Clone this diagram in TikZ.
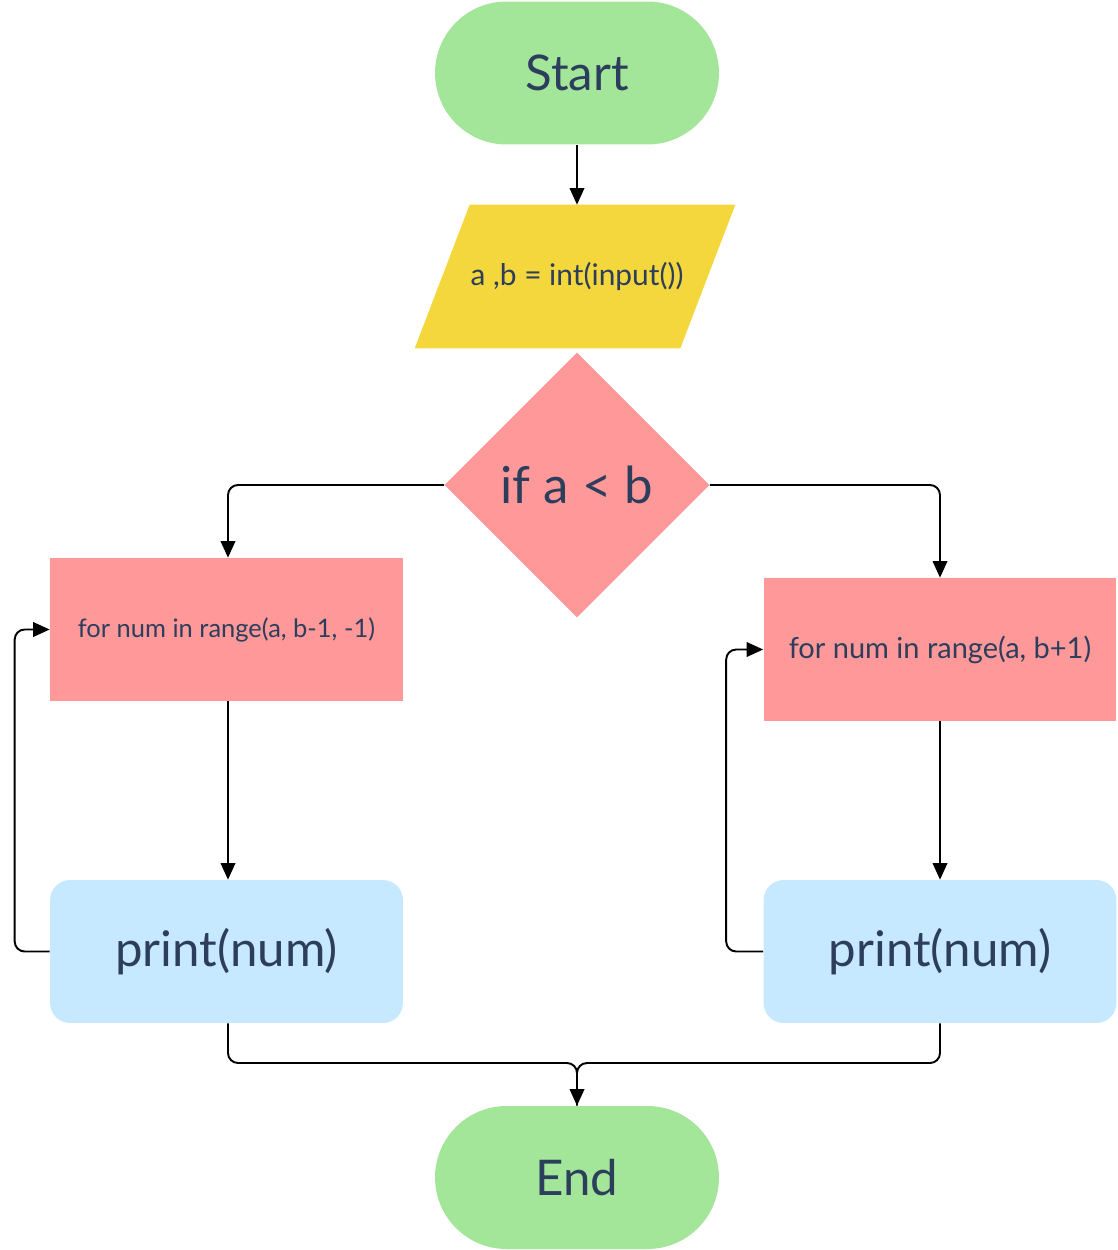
\documentclass[tikz,border=0pt]{standalone}
\usepackage{fontspec}
\setmainfont{Lato}
\usepackage{tikz}
\usetikzlibrary{arrows.meta,positioning,shapes.geometric,backgrounds}
\definecolor{leaf}{HTML}{A3E699}
\definecolor{sun}{HTML}{F4D73C}
\definecolor{rose}{HTML}{FF9999}
\definecolor{sky}{HTML}{C7E9FF}
\definecolor{ink}{HTML}{2C3E5C}
\tikzset{
  terminal/.style={fill=leaf,rounded corners=1.43cm,minimum width=5.68cm,minimum height=2.86cm,inner sep=0pt,text=ink,font=\fontsize{28}{30}\selectfont},
  io/.style={rectangle,minimum width=5.3cm,minimum height=2.86cm,inner sep=0pt,text=ink,font=\fontsize{17}{20}\selectfont},
  decision/.style={diamond,aspect=1,fill=rose,minimum size=5.3cm,inner sep=0pt,text=ink,font=\fontsize{29}{31}\selectfont},
  loopbox/.style={rectangle,fill=rose,minimum width=7.06cm,minimum height=2.86cm,inner sep=0pt,text=ink,font=\fontsize{16}{18}\selectfont},
  outbox/.style={rectangle,fill=sky,rounded corners=0.4cm,minimum width=7.06cm,minimum height=2.86cm,inner sep=0pt,text=ink,font=\fontsize{28}{30}\selectfont},
  arrow/.style={-{Triangle[length=3.3mm,width=2.9mm]},line width=1.1pt,black,rounded corners=0.2cm},
  link/.style={line width=1.1pt,black,rounded corners=0.2cm},
}
\begin{document}
\begin{tikzpicture}[x=0.02cm,y=-0.02cm]
  \useasboundingbox (0,0) rectangle (1118,1250);
  % main column
  \node[terminal] (start) at (577,73) {Start};
  \node[io] (input) at (577,276.5) {a ,b = int(input())};
  \begin{scope}[on background layer]
    \fill[sun] ([xshift=-0.59cm]input.south west) -- ([xshift=0.51cm]input.north west)
      -- ([xshift=0.51cm]input.north east) -- ([xshift=-0.59cm]input.south east) -- cycle;
  \end{scope}
  \node[decision] (cond) at (577,485) {if a < b};
  % left branch
  \node[loopbox,font=\fontsize{14.5}{17}\selectfont] (lfor) at (226.5,629.5) {for num in range(a, b-1, -1)};
  \node[outbox] (lprint) at (226.5,951.5) {print(num)};
  % right branch
  \node[loopbox,font=\fontsize{16.5}{19}\selectfont] (rfor) at (940,649.5) {for num in range(a, b+1)};
  \node[outbox] (rprint) at (940,951.5) {print(num)};
  \node[terminal] (stop) at (577,1177.5) {End};
  \coordinate (join) at (577,1063);
  % connectors
  \draw[arrow] (start) -- (input);
  \draw[arrow] (cond.west) -| ([xshift=0.03cm]lfor.north);
  \draw[arrow] (cond.east) -| (rfor.north);
  \draw[arrow] ([xshift=0.03cm]lfor.south) -- ([xshift=0.03cm]lprint.north);
  \draw[arrow] (rfor) -- (rprint);
  \draw[arrow] (lprint.west) -- ++(-35,0) |- (lfor.west);
  \draw[arrow] (rprint.west) -- ++(-37,0) |- (rfor.west);
  \draw[link] ([xshift=0.03cm]lprint.south) |- (join) -- (stop.north);
  \draw[arrow] (rprint.south) |- (join) -- (stop.north);
\end{tikzpicture}
\end{document}
